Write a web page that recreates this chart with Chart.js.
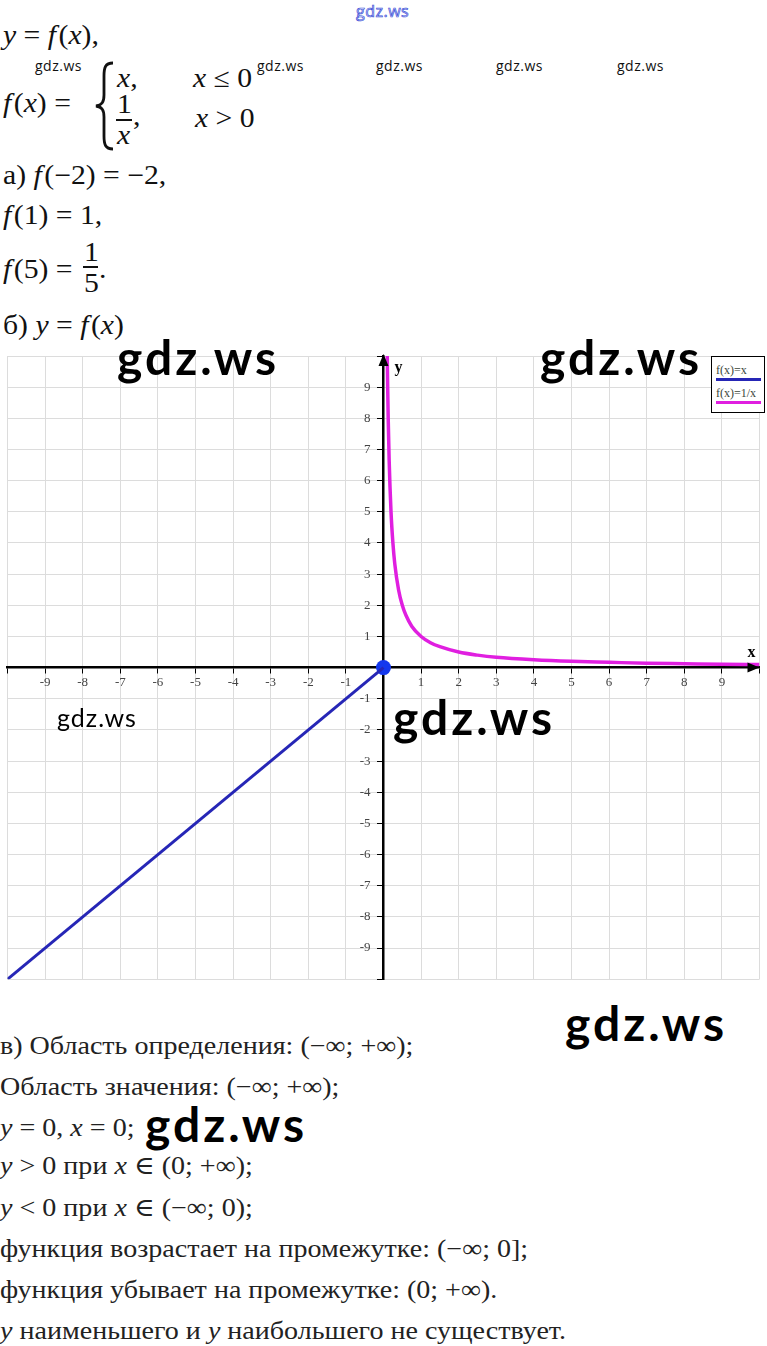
<!DOCTYPE html>
<html>
<head>
<meta charset="utf-8">
<script src="https://cdn.jsdelivr.net/npm/chart.js@4.4.1/dist/chart.umd.min.js"></script>
<style>
  body { margin: 0; background: #fff; }
  #page { position: relative; width: 767px; height: 1346px; overflow: hidden; font-family: "Liberation Serif", "Times New Roman", "DejaVu Serif", serif; color: #111; }
  .t { position: absolute; white-space: nowrap; line-height: 1; transform: scaleX(1.1); transform-origin: left top; }
  .m { font-size: 27px; }
  .b { font-size: 25.5px; color: #222; }
  i { font-style: italic; }
  .wm { position: absolute; font-family: Lato, "Open Sans", sans-serif; font-weight: bold; color: #000; line-height: 1; white-space: nowrap; font-size: 48px; letter-spacing: 3px; }
  .wms { position: absolute; font-family: "Open Sans", Lato, sans-serif; font-size: 14px; letter-spacing: 0.5px; color: #111; line-height: 1; }
  #chartBox { position: absolute; left: 0; top: 340px; width: 767px; height: 650px; }
  #legend { position: absolute; left: 711px; top: 356px; width: 52px; height: 55px; border: 1px solid #000; background: #fff; font-family: "Liberation Serif", serif; font-size: 12px; color: #3a463a; }
  #legend .lbl { position: absolute; left: 4px; white-space: nowrap; line-height: 1; }
  #legend .bar { position: absolute; left: 4px; width: 45px; height: 3px; }
</style>
</head>
<body>
<div id="page">
  <!-- top formulas -->
  <div class="wms" style="left:356px; top:3px; font-size:16px; color:#dfe3ff; -webkit-text-stroke:0.7px #3a4fd6;">gdz.ws</div>
  <div class="t m" style="left:3px; top:22px;"><i>y</i> = <i>f</i>&#8202;(<i>x</i>),</div>
  <div class="wms" style="left:35px; top:59px;">gdz.ws</div>
  <div class="wms" style="left:257px; top:59px;">gdz.ws</div>
  <div class="wms" style="left:376px; top:59px;">gdz.ws</div>
  <div class="wms" style="left:496px; top:59px;">gdz.ws</div>
  <div class="wms" style="left:617px; top:59px;">gdz.ws</div>
  <div class="t m" style="left:3px; top:90px;"><i>f</i>&#8202;(<i>x</i>) =</div>
  <svg style="position:absolute; left:94px; top:61px;" width="22" height="90" viewBox="0 0 22 90">
    <path d="M19 2 C11 2 10 7 10 15 L10 34 C10 41 8 44 2 45 C8 46 10 49 10 56 L10 75 C10 83 11 88 19 88" fill="none" stroke="#111" stroke-width="2.8"/>
  </svg>
  <div class="t m" style="left:117px; top:65px;"><i>x</i>,</div>
  <div class="t m" style="left:193px; top:65px;"><i>x</i> ≤ 0</div>
  <div class="t m" style="left:117px; top:91px;">1</div>
  <div style="position:absolute; left:116px; top:119px; width:16px; height:1.5px; background:#111;"></div>
  <div class="t m" style="left:117px; top:122px;"><i>x</i></div>
  <div class="t m" style="left:133px; top:103px;">,</div>
  <div class="t m" style="left:195px; top:105px;"><i>x</i> &gt; 0</div>
  <div class="t m" style="left:3px; top:162px;">а) <i>f</i>&#8202;(−2) = −2,</div>
  <div class="t m" style="left:3px; top:202px;"><i>f</i>&#8202;(1) = 1,</div>
  <div class="t m" style="left:3px; top:256px;"><i>f</i>&#8202;(5) =</div>
  <div class="t m" style="left:84px; top:239px;">1</div>
  <div style="position:absolute; left:83px; top:266px; width:15px; height:1.5px; background:#111;"></div>
  <div class="t m" style="left:84px; top:270px;">5</div>
  <div class="t m" style="left:99px; top:256px;">.</div>
  <div class="t m" style="left:3px; top:312px;">б) <i>y</i> = <i>f</i>&#8202;(<i>x</i>)</div>

  <div id="chartBox"><canvas id="graph"></canvas></div>
  <div id="legend"></div>

  <!-- bottom text -->
  <div class="t b" style="left:0px; top:1033px;">в) Область определения: (−∞; +∞);</div>
  <div class="t b" style="left:0px; top:1074px;">Область значения: (−∞; +∞);</div>
  <div class="t b" style="left:0px; top:1115px;"><i>y</i> = 0, <i>x</i> = 0;</div>
  <div class="t b" style="left:0px; top:1153px;"><i>y</i> &gt; 0 при <i>x</i> ∈ (0; +∞);</div>
  <div class="t b" style="left:0px; top:1195px;"><i>y</i> &lt; 0 при <i>x</i> ∈ (−∞; 0);</div>
  <div class="t b" style="left:0px; top:1236px;">функция возрастает на промежутке: (−∞; 0];</div>
  <div class="t b" style="left:0px; top:1277px;">функция убывает на промежутке: (0; +∞).</div>
  <div class="t b" style="left:0px; top:1318px;"><i>y</i> наименьшего и <i>y</i> наибольшего не существует.</div>

  <!-- watermarks -->
  <div class="wm" style="left:117px; top:333px;">gdz.ws</div>
  <div class="wm" style="left:540px; top:333px;">gdz.ws</div>
  <div class="wm" style="left:393px; top:693px;">gdz.ws</div>
  <div class="wm" style="left:57px; top:705px; font-size:25px; font-weight:normal; letter-spacing:1px;">gdz.ws</div>
  <div class="wm" style="left:565px; top:999px;">gdz.ws</div>
  <div class="wm" style="left:145px; top:1100px;">gdz.ws</div>
</div>

<script>
// f(x) = x for x <= 0
const lineX = [-10, 0];
const lineY = [-10, 0];

// f(x) = 1/x for x > 0
const hypX = [0.1, 0.11, 0.125, 0.15, 0.2, 0.25, 0.3, 0.4, 0.5, 0.6, 0.75, 1, 1.25, 1.5, 2, 2.5, 3, 4, 5, 6, 7, 8, 9, 10];
const hypY = [10, 9.09, 8, 6.67, 5, 4, 3.33, 2.5, 2, 1.67, 1.33, 1, 0.8, 0.67, 0.5, 0.4, 0.33, 0.25, 0.2, 0.17, 0.14, 0.125, 0.11, 0.1];

// filled point at the origin
const dotX = [0];
const dotY = [0];

const axisMin = -10;
const axisMax = 10;

const seriesLabels = ["f(x)=x", "f(x)=1/x"];
const seriesColors = ["#2626b6", "#e01fe0"];
const dotColor = "#1438ee";

function toPoints(xs, ys) {
  return xs.map((x, i) => ({ x: x, y: ys[i] }));
}

// legend box: label with a coloured bar under it
const legendEl = document.getElementById("legend");
seriesLabels.forEach((label, i) => {
  const top = 7 + i * 23;
  legendEl.insertAdjacentHTML("beforeend",
    '<div class="lbl" style="top:' + top + 'px">' + label + '</div>' +
    '<div class="bar" style="top:' + (top + 14) + 'px; background:' + seriesColors[i] + '"></div>');
});

const axisArrows = {
  id: "axisArrows",
  afterDatasetsDraw(chart) {
    const ctx = chart.ctx;
    const area = chart.chartArea;
    const x0 = chart.scales.x.getPixelForValue(0);
    const y0 = chart.scales.y.getPixelForValue(0);
    ctx.save();
    ctx.fillStyle = "#000";
    // x arrow
    ctx.beginPath();
    ctx.moveTo(area.right, y0);
    ctx.lineTo(area.right - 12, y0 - 5);
    ctx.lineTo(area.right - 12, y0 + 5);
    ctx.closePath();
    ctx.fill();
    // y arrow
    ctx.beginPath();
    ctx.moveTo(x0, area.top - 2);
    ctx.lineTo(x0 - 5, area.top + 10);
    ctx.lineTo(x0 + 5, area.top + 10);
    ctx.closePath();
    ctx.fill();
    ctx.font = "bold 16px 'Liberation Serif'";
    ctx.textBaseline = "alphabetic";
    ctx.fillText("x", area.right - 12, y0 - 11);
    ctx.fillText("y", x0 + 11, area.top + 16);
    ctx.restore();
  }
};

function tickText(v) {
  return v === 0 || Math.abs(v) === 10 ? "" : String(v);
}

const tickFont = { family: "Liberation Serif", size: 13 };

const gridOpts = {
  color: (c) => (c.tick && c.tick.value === 0 ? "#000" : "#dcdcdc"),
  lineWidth: 1,
  tickLength: 5,
  tickColor: "#000"
};

new Chart(document.getElementById("graph").getContext("2d"), {
  type: "scatter",
  data: {
    datasets: [
      {
        label: seriesLabels[0],
        data: toPoints(lineX, lineY),
        showLine: true,
        borderColor: seriesColors[0],
        borderWidth: 3,
        pointRadius: 0
      },
      {
        label: seriesLabels[1],
        data: toPoints(hypX, hypY),
        showLine: true,
        borderColor: seriesColors[1],
        borderWidth: 3.5,
        pointRadius: 0,
        cubicInterpolationMode: "monotone"
      },
      {
        label: "origin",
        data: toPoints(dotX, dotY),
        pointRadius: 7.5,
        backgroundColor: dotColor,
        borderWidth: 0
      }
    ]
  },
  options: {
    responsive: true,
    maintainAspectRatio: false,
    animation: false,
    layout: { padding: { top: 16, bottom: 4, left: 2, right: 0 } },
    plugins: {
      legend: { display: false },
      tooltip: { enabled: false }
    },
    scales: {
      x: {
        type: "linear",
        min: axisMin,
        max: axisMax,
        position: { y: 0 },
        grid: gridOpts,
        border: { color: "#000", width: 2.5 },
        ticks: {
          stepSize: 1,
          autoSkip: false,
          maxRotation: 0,
          padding: 2,
          color: "#444",
          font: tickFont,
          callback: tickText
        }
      },
      y: {
        type: "linear",
        min: axisMin,
        max: axisMax,
        position: { x: 0 },
        grid: gridOpts,
        border: { color: "#000", width: 2.5 },
        ticks: {
          stepSize: 1,
          autoSkip: false,
          color: "#444",
          font: tickFont,
          // labels sit right-aligned on the axis, so pad them off it
          callback: (v) => (tickText(v) ? tickText(v) + "\u2002\u2002" : "")
        }
      }
    }
  },
  plugins: [axisArrows]
});
</script>
</body>
</html>
